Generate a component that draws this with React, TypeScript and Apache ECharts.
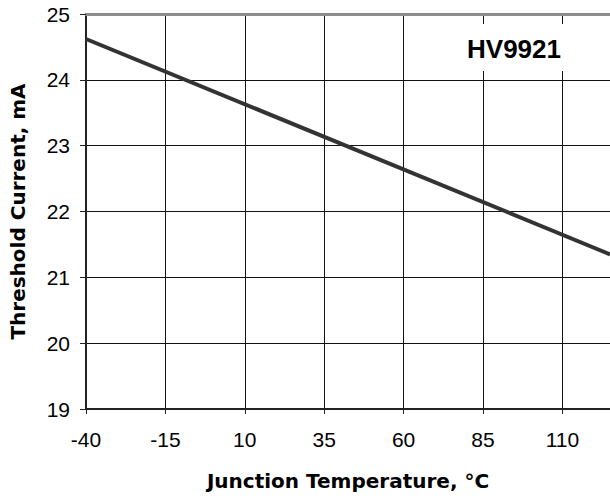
import React, { useEffect, useRef } from "react";
import * as echarts from "echarts";

const temperatures = [-40, 125];
const thresholdCurrent = [24.62, 21.35];
const xTickLabels = ["-40", "-15", "10", "35", "60", "85", "110"];
const yTicks = [19, 20, 21, 22, 23, 24, 25];
const X_MIN = -40;
const X_MAX = 125;
const X_STEP = 25;

const FONT = "'Liberation Sans', Arial, sans-serif";
const NAME_FONT = "'DejaVu Sans', sans-serif";

export default function App() {
  const ref = useRef<HTMLDivElement>(null);
  useEffect(() => {
    document.body.style.margin = "0";
    const chart = echarts.init(ref.current!, null, { renderer: "svg" });
    const span = X_MAX - X_MIN;
    chart.setOption({
      animation: false,
      backgroundColor: "#ffffff",
      grid: { left: 86, top: 14, right: 0, bottom: 92 },
      xAxis: [
        {
          type: "value",
          min: 0,
          max: span,
          interval: X_STEP,
          name: "Junction Temperature, °C",
          nameLocation: "middle",
          nameGap: 62,
          nameTextStyle: {
            fontFamily: NAME_FONT,
            fontSize: 20,
            fontWeight: "bold",
            color: "#000",
          },
          axisLine: { show: true, onZero: false, lineStyle: { color: "#222", width: 2 } },
          axisTick: { show: true, inside: false, length: 5, lineStyle: { color: "#222" } },
          axisLabel: {
            margin: 20,
            fontFamily: FONT,
            fontSize: 21,
            color: "#000",
            showMaxLabel: false,
            formatter: (v: number) => {
              const idx = Math.round(v / X_STEP);
              return v <= span - X_STEP / 2 ? xTickLabels[idx] ?? "" : "";
            },
          },
          splitLine: { show: true, showMaxLine: false, lineStyle: { color: "#111", width: 1 } },
        },
        {
          type: "value",
          position: "top",
          min: 0,
          max: span,
          axisLine: { show: true, lineStyle: { color: "#8c8c8c", width: 3 } },
          axisTick: { show: false },
          axisLabel: { show: false },
          splitLine: { show: false },
        },
      ],
      yAxis: {
        type: "value",
        min: yTicks[0],
        max: yTicks[yTicks.length - 1],
        interval: 1,
        name: "Threshold Current, mA",
        nameLocation: "middle",
        nameGap: 58,
        nameRotate: 90,
        nameTextStyle: { fontFamily: NAME_FONT, fontSize: 20, fontWeight: "bold", color: "#000" },
        axisLine: { show: true, lineStyle: { color: "#222", width: 2 } },
        axisTick: { show: true, inside: false, length: 6, lineStyle: { color: "#222" } },
        axisLabel: { margin: 16, fontFamily: FONT, fontSize: 21, color: "#000" },
        splitLine: { show: true, showMaxLine: false, lineStyle: { color: "#111", width: 1 } },
      },
      graphic: [
        {
          type: "group",
          left: 459,
          top: 24,
          z: 100,
          children: [
            { type: "rect", shape: { x: 0, y: 0, width: 110, height: 47 }, style: { fill: "#ffffff" }, z: 100 },
            {
              type: "text",
              x: 55,
              y: 25,
              z: 101,
              style: {
                text: "HV9921",
                fontFamily: FONT,
                fontSize: 26,
                fontWeight: "bold",
                fill: "#000",
                align: "center",
                verticalAlign: "middle",
              },
            },
          ],
        },
      ],
      series: [
        {
          type: "line",
          xAxisIndex: 0,
          data: temperatures.map((t, i) => [t - X_MIN, thresholdCurrent[i]]),
          showSymbol: false,
          lineStyle: { color: "#333333", width: 4 },
          z: 3,
        },
      ],
    });
    return () => chart.dispose();
  }, []);
  return <div ref={ref} style={{ width: 610, height: 501, position: "absolute", left: 0, top: 0 }} />;
}
